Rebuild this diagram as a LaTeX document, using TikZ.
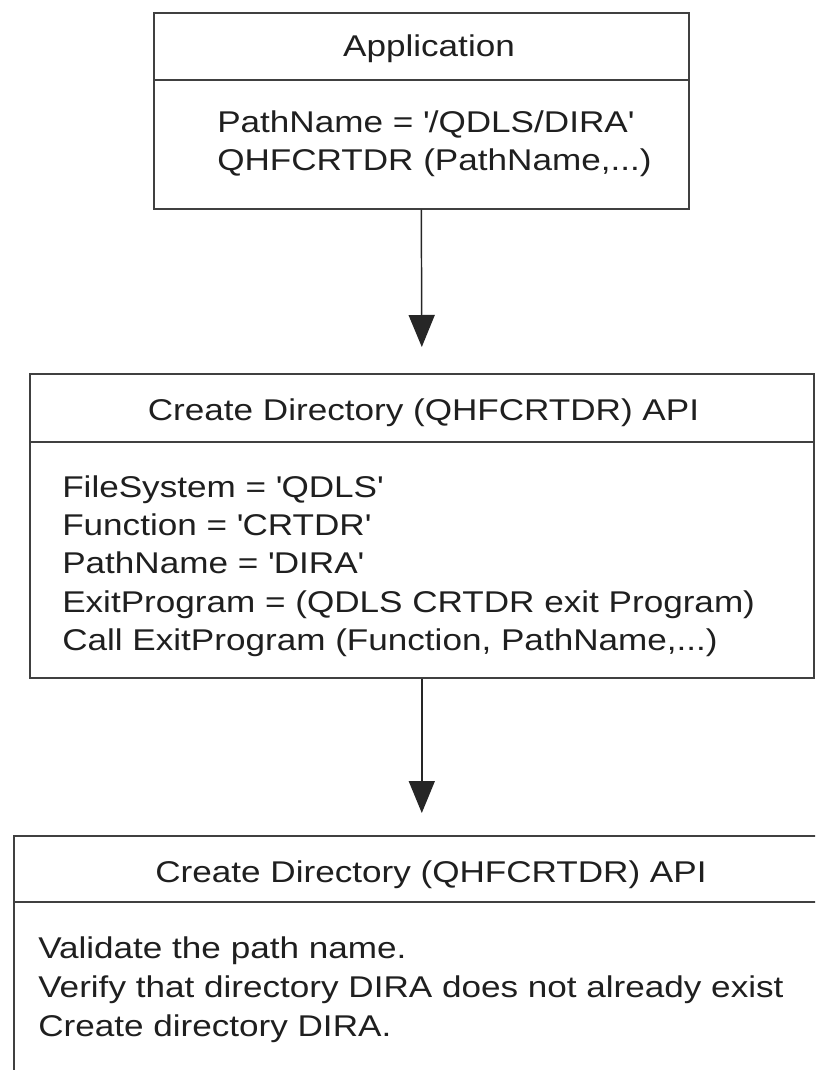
\documentclass[tikz,border=0pt]{standalone}
\usepackage{fontspec}
\setmainfont{Liberation Sans}[FakeStretch=1.17]
\usetikzlibrary{arrows.meta}
\newcommand\qsq{\textquotesingle}
\begin{document}
\begin{tikzpicture}[x=0.75pt,y=-0.75pt,
  boxline/.style={draw=black!75, line width=1.2pt},
  frame/.style={boxline, rectangle, anchor=north west, inner sep=0pt},
  lbl/.style={inner sep=0pt, text=black!88, font=\fontsize{22.5pt}{28pt}\selectfont},
  ttl/.style={lbl, anchor=base},
  ln/.style={lbl, anchor=base west},
  flow/.style={draw=black!85, line width=1.1pt, -{Triangle[length=24pt,width=19.5pt]}}
]
\useasboundingbox (0,0) rectangle (815,1070);
\clip (0,0) rectangle (815,1070);
\fill[white] (0,0) rectangle (815,1070);

% boxes
\node[frame, minimum width=401.25pt, minimum height=147pt] (box1) at (153,12) {};
\node[frame, minimum width=588pt, minimum height=228pt] (box2) at (29,373) {};
\node[frame, minimum width=612pt, minimum height=240pt] (box3) at (13,835) {};

% dividers
\draw[boxline] ([yshift=-51pt]box1.north west) -- ([yshift=-51pt]box1.north east);
\draw[boxline] ([yshift=-51.75pt]box2.north west) -- ([yshift=-51.75pt]box2.north east);
\draw[boxline] ([yshift=-50.25pt]box3.north west) -- ([yshift=-50.25pt]box3.north east);

% box 1 text
\node[ttl] (t1) at (429,57) {Application};
\node[ln] (t1a) at (217,133) {PathName = \qsq/QDLS/DIRA\qsq};
\node[ln] (t1b) at (217,171) {QHFCRTDR (PathName,...)};

% box 2 text
\node[ttl] (t2) at (423.5,420) {Create Directory (QHFCRTDR) API};
\node[ln] (t2a) at (62,497) {FileSystem = \qsq{}QDLS\qsq};
\node[ln] (t2b) at (62,535) {Function = \qsq{}CRTDR\qsq};
\node[ln] (t2c) at (62,573) {PathName = \qsq{}DIRA\qsq};
\node[ln] (t2d) at (62,612) {ExitProgram = (QDLS CRTDR exit Program)};
\node[ln] (t2e) at (62,650) {Call ExitProgram (Function, PathName,...)};

% box 3 text
\node[ttl] (t3) at (431,882) {Create Directory (QHFCRTDR) API};
\node[ln] (t3a) at (38,958) {Validate the path name.};
\node[ln] (t3b) at (38,997) {Verify that directory DIRA does not already exist};
\node[ln] (t3c) at (38,1036) {Create directory DIRA.};

% connectors
\draw[flow] (box1.south) -- ([yshift=19.5pt]box2.north);
\draw[flow] (box2.south) -- ([yshift=16.5pt]box3.north);
\end{tikzpicture}
\end{document}
